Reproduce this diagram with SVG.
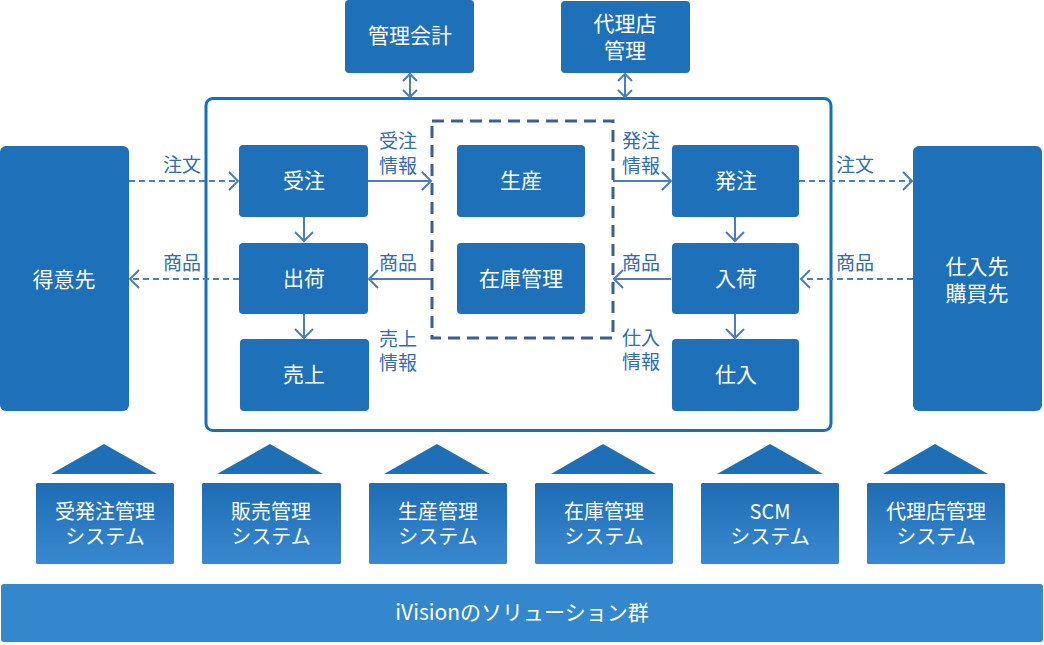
<svg xmlns="http://www.w3.org/2000/svg" width="1044" height="645" viewBox="0 0 1044 645">
<style>
.box{fill:#1e70b8}
.nt{fill:#fff;font-family:"Noto Sans CJK JP","Noto Sans",sans-serif;font-size:21px;text-anchor:middle}
.st{fill:#fff;font-family:"Noto Sans CJK JP","Noto Sans",sans-serif;font-size:20px;text-anchor:middle}
.lb{fill:#2f6db3;font-family:"Noto Sans CJK JP","Noto Sans",sans-serif;font-size:19px}
.c{stroke:#4a7dbf;stroke-width:2;fill:none}
.d{stroke-dasharray:6 4}
.tri{fill:#1e6fb6}
.sys{fill:url(#g)}
</style>
<defs>
<linearGradient id="g" x1="0" y1="0" x2="0" y2="1">
<stop offset="0" stop-color="#1e6db4"/>
<stop offset="1" stop-color="#3a89d0"/>
</linearGradient>
<marker id="ah" viewBox="-11 -11 13 22" markerWidth="13" markerHeight="22" refX="0" refY="0" orient="auto-start-reverse" markerUnits="userSpaceOnUse">
<path d="M-9,-9 L0,0 L-9,9" fill="none" stroke="#4a7dbf" stroke-width="2"/>
</marker>
<marker id="ahs" viewBox="-9 -9 11 18" markerWidth="11" markerHeight="18" refX="0" refY="0" orient="auto-start-reverse" markerUnits="userSpaceOnUse">
<path d="M-7,-7 L0,0 L-7,7" fill="none" stroke="#4a7dbf" stroke-width="2"/>
</marker>
</defs>

<g id="container">
<rect x="206" y="98.5" width="625" height="332" rx="7" fill="none" stroke="#1170c0" stroke-width="3"/>
<rect x="432" y="121" width="181" height="217" fill="none" stroke="#3d5e8f" stroke-width="3" stroke-dasharray="12 7"/>
</g>

<g id="n-kanri"><rect class="box" x="345" y="0" width="129" height="73" rx="4"/><text class="nt" x="410" y="43">管理会計</text></g>
<g id="n-dairiten"><rect class="box" x="561" y="1" width="129" height="72" rx="4"/><text class="nt" x="625" y="31">代理店<tspan x="625" dy="27">管理</tspan></text></g>
<g id="n-tokuisaki"><rect class="box" x="0" y="146" width="129" height="265" rx="6"/><text class="nt" x="64" y="287">得意先</text></g>
<g id="n-shiiresaki"><rect class="box" x="913" y="146" width="129" height="265" rx="6"/><text class="nt" x="977" y="274">仕入先<tspan x="977" dy="27">購買先</tspan></text></g>
<g id="n-juchu"><rect class="box" x="239" y="145" width="129" height="72" rx="4"/><text class="nt" x="304" y="188">受注</text></g>
<g id="n-shukka"><rect class="box" x="239" y="243" width="129" height="71" rx="4"/><text class="nt" x="304" y="286">出荷</text></g>
<g id="n-uriage"><rect class="box" x="240" y="339" width="129" height="72" rx="4"/><text class="nt" x="304" y="382">売上</text></g>
<g id="n-seisan"><rect class="box" x="457" y="145" width="128" height="72" rx="4"/><text class="nt" x="521" y="188">生産</text></g>
<g id="n-zaiko"><rect class="box" x="457" y="243" width="128" height="71" rx="4"/><text class="nt" x="521" y="286">在庫管理</text></g>
<g id="n-hatchu"><rect class="box" x="672" y="145" width="127" height="72" rx="4"/><text class="nt" x="736" y="188">発注</text></g>
<g id="n-nyuka"><rect class="box" x="672" y="243" width="127" height="71" rx="4"/><text class="nt" x="736" y="286">入荷</text></g>
<g id="n-shiire"><rect class="box" x="672" y="339" width="127" height="72" rx="4"/><text class="nt" x="736" y="382">仕入</text></g>

<g id="connectors">
<line class="c" x1="410" y1="74" x2="410" y2="97" marker-start="url(#ahs)" marker-end="url(#ahs)"/>
<line class="c" x1="625" y1="74" x2="625" y2="97" marker-start="url(#ahs)" marker-end="url(#ahs)"/>
<line class="c d" x1="129" y1="181" x2="238" y2="181" marker-end="url(#ah)"/>
<line class="c" x1="368" y1="181" x2="431" y2="181" marker-end="url(#ah)"/>
<line class="c" x1="304" y1="217" x2="304" y2="241" marker-end="url(#ah)"/>
<line class="c d" x1="239" y1="279" x2="130" y2="279" marker-end="url(#ah)"/>
<line class="c" x1="431" y1="279" x2="369" y2="279" marker-end="url(#ah)"/>
<line class="c" x1="304" y1="314" x2="304" y2="338" marker-end="url(#ah)"/>
<line class="c" x1="613" y1="181" x2="671" y2="181" marker-end="url(#ah)"/>
<line class="c d" x1="799" y1="181" x2="912" y2="181" marker-end="url(#ah)"/>
<line class="c" x1="735" y1="217" x2="735" y2="241" marker-end="url(#ah)"/>
<line class="c" x1="671" y1="279" x2="614" y2="279" marker-end="url(#ah)"/>
<line class="c d" x1="913" y1="279" x2="801" y2="279" marker-end="url(#ah)"/>
<line class="c" x1="735" y1="314" x2="735" y2="338" marker-end="url(#ah)"/>
</g>

<g id="labels">
<text class="lb" x="163" y="172">注文</text>
<text class="lb" x="379" y="148">受注<tspan x="379" dy="25">情報</tspan></text>
<text class="lb" x="163" y="270">商品</text>
<text class="lb" x="379" y="270">商品</text>
<text class="lb" x="379" y="346">売上<tspan x="379" dy="24">情報</tspan></text>
<text class="lb" x="622" y="148">発注<tspan x="622" dy="25">情報</tspan></text>
<text class="lb" x="836" y="172">注文</text>
<text class="lb" x="622" y="270">商品</text>
<text class="lb" x="836" y="270">商品</text>
<text class="lb" x="622" y="345">仕入<tspan x="622" dy="24">情報</tspan></text>
</g>

<g id="sys1"><polygon class="tri" points="51,474 104,444 157,474"/><rect class="sys" x="36" y="483" width="138" height="81" rx="1.5"/><text class="st" x="105" y="519">受発注管理<tspan x="105" dy="25">システム</tspan></text></g>
<g id="sys2"><polygon class="tri" points="217,474 270,444 323,474"/><rect class="sys" x="202" y="483" width="139" height="81" rx="1.5"/><text class="st" x="271" y="519">販売管理<tspan x="271" dy="25">システム</tspan></text></g>
<g id="sys3"><polygon class="tri" points="384,474 437,444 490,474"/><rect class="sys" x="369" y="483" width="138" height="81" rx="1.5"/><text class="st" x="438" y="519">生産管理<tspan x="438" dy="25">システム</tspan></text></g>
<g id="sys4"><polygon class="tri" points="551,474 603,444 656,474"/><rect class="sys" x="535" y="483" width="138" height="81" rx="1.5"/><text class="st" x="604" y="519">在庫管理<tspan x="604" dy="25">システム</tspan></text></g>
<g id="sys5"><polygon class="tri" points="717,474 770,444 823,474"/><rect class="sys" x="701" y="483" width="138" height="81" rx="1.5"/><text class="st" x="770" y="519">SCM<tspan x="770" dy="25">システム</tspan></text></g>
<g id="sys6"><polygon class="tri" points="883,474 935,444 988,474"/><rect class="sys" x="867" y="483" width="138" height="81" rx="1.5"/><text class="st" x="936" y="519">代理店管理<tspan x="936" dy="25">システム</tspan></text></g>

<g id="solutions"><rect x="1" y="584" width="1042" height="58" rx="3" fill="#3486cd"/><text class="st" x="522" y="620" style="font-size:21px">iVisionのソリューション群</text></g>
</svg>
